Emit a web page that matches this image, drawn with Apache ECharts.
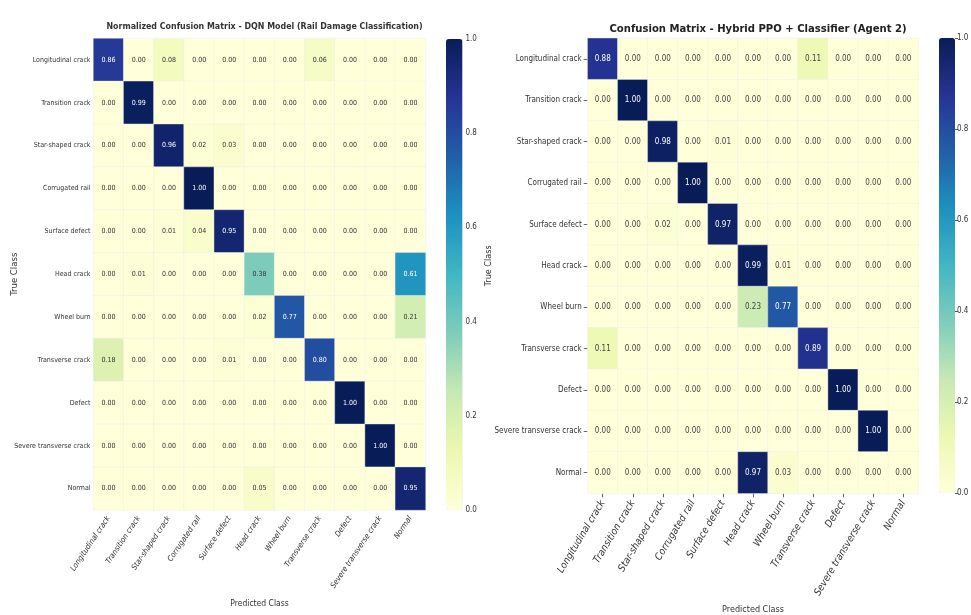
<!DOCTYPE html>
<html>
<head>
<meta charset="utf-8">
<script src="https://cdn.jsdelivr.net/npm/echarts@6/dist/echarts.min.js"></script>
<style>
  html, body { margin: 0; padding: 0; background: #fff; }
  #chart { width: 971px; height: 615px; }
</style>
</head>
<body>
<div id="chart"></div>
<script>
// Class names shared by both confusion matrices (rows = true, columns = predicted)
const classNames = [
  'Longitudinal crack', 'Transition crack', 'Star-shaped crack', 'Corrugated rail',
  'Surface defect', 'Head crack', 'Wheel burn', 'Transverse crack', 'Defect',
  'Severe transverse crack', 'Normal'
];

// DQN model, normalized per true class
const dqnMatrix = [
  [0.86, 0.00, 0.08, 0.00, 0.00, 0.00, 0.00, 0.06, 0.00, 0.00, 0.00],
  [0.00, 0.99, 0.00, 0.00, 0.00, 0.00, 0.00, 0.00, 0.00, 0.00, 0.00],
  [0.00, 0.00, 0.96, 0.02, 0.03, 0.00, 0.00, 0.00, 0.00, 0.00, 0.00],
  [0.00, 0.00, 0.00, 1.00, 0.00, 0.00, 0.00, 0.00, 0.00, 0.00, 0.00],
  [0.00, 0.00, 0.01, 0.04, 0.95, 0.00, 0.00, 0.00, 0.00, 0.00, 0.00],
  [0.00, 0.01, 0.00, 0.00, 0.00, 0.38, 0.00, 0.00, 0.00, 0.00, 0.61],
  [0.00, 0.00, 0.00, 0.00, 0.00, 0.02, 0.77, 0.00, 0.00, 0.00, 0.21],
  [0.18, 0.00, 0.00, 0.00, 0.01, 0.00, 0.00, 0.80, 0.00, 0.00, 0.00],
  [0.00, 0.00, 0.00, 0.00, 0.00, 0.00, 0.00, 0.00, 1.00, 0.00, 0.00],
  [0.00, 0.00, 0.00, 0.00, 0.00, 0.00, 0.00, 0.00, 0.00, 1.00, 0.00],
  [0.00, 0.00, 0.00, 0.00, 0.00, 0.05, 0.00, 0.00, 0.00, 0.00, 0.95]
];

// Hybrid PPO + classifier (agent 2)
const ppoMatrix = [
  [0.88, 0.00, 0.00, 0.00, 0.00, 0.00, 0.00, 0.11, 0.00, 0.00, 0.00],
  [0.00, 1.00, 0.00, 0.00, 0.00, 0.00, 0.00, 0.00, 0.00, 0.00, 0.00],
  [0.00, 0.00, 0.98, 0.00, 0.01, 0.00, 0.00, 0.00, 0.00, 0.00, 0.00],
  [0.00, 0.00, 0.00, 1.00, 0.00, 0.00, 0.00, 0.00, 0.00, 0.00, 0.00],
  [0.00, 0.00, 0.02, 0.00, 0.97, 0.00, 0.00, 0.00, 0.00, 0.00, 0.00],
  [0.00, 0.00, 0.00, 0.00, 0.00, 0.99, 0.01, 0.00, 0.00, 0.00, 0.00],
  [0.00, 0.00, 0.00, 0.00, 0.00, 0.23, 0.77, 0.00, 0.00, 0.00, 0.00],
  [0.11, 0.00, 0.00, 0.00, 0.00, 0.00, 0.00, 0.89, 0.00, 0.00, 0.00],
  [0.00, 0.00, 0.00, 0.00, 0.00, 0.00, 0.00, 0.00, 1.00, 0.00, 0.00],
  [0.00, 0.00, 0.00, 0.00, 0.00, 0.00, 0.00, 0.00, 0.00, 1.00, 0.00],
  [0.00, 0.00, 0.00, 0.00, 0.00, 0.97, 0.03, 0.00, 0.00, 0.00, 0.00]
];

// Colour bar tick labels
const colorbarTicks = [0.0, 0.2, 0.4, 0.6, 0.8, 1.0];

// YlGnBu colour ramp
const ylGnBu = ['#ffffd9', '#edf8b1', '#c7e9b4', '#7fcdbb', '#41b6c4',
                '#1d91c0', '#225ea8', '#253494', '#081d58'];

const condFont = "'DejaVu Sans Condensed', 'DejaVu Sans', sans-serif";

function toCells(matrix, lightText) {
  const cells = [];
  matrix.forEach((row, r) => {
    row.forEach((v, c) => {
      cells.push({
        value: [c, r, v],
        label: { color: v > 0.5 ? '#ffffff' : lightText }
      });
    });
  });
  return cells;
}

const tickFormatter = v => colorbarTicks.find(t => Math.abs(t - v) < 1e-9).toFixed(1);

const chart = echarts.init(document.getElementById('chart'), null, { renderer: 'canvas' });

const option = {
  backgroundColor: '#ffffff',
  animation: false,
  title: [
    {
      text: 'Normalized Confusion Matrix - DQN Model (Rail Damage Classification)',
      left: 259.5, top: 17, textAlign: 'center',
      textStyle: { fontFamily: condFont, fontSize: 8.8, fontWeight: 'bold', color: '#333' }
    },
    {
      text: 'Confusion Matrix - Hybrid PPO + Classifier (Agent 2)',
      left: 753, top: 19, textAlign: 'center',
      textStyle: { fontFamily: condFont, fontSize: 11.2, fontWeight: 'bold', color: '#222' }
    }
  ],
  grid: [
    { left: 93.5, top: 38.5, width: 332, height: 471.5, outerBoundsMode: 'none', containLabel: false },
    { left: 587.7, top: 38.3, width: 330.6, height: 455, outerBoundsMode: 'none', containLabel: false },
    { left: 446, top: 39, width: 16.5, height: 471, outerBoundsMode: 'none', containLabel: false },
    { left: 939, top: 38, width: 16, height: 455, outerBoundsMode: 'none', containLabel: false }
  ],
  xAxis: [
    {
      type: 'category', gridIndex: 0, data: classNames, position: 'bottom',
      name: 'Predicted Class', nameLocation: 'middle', nameGap: 89, nameMoveOverlap: false,
      nameTextStyle: { fontFamily: condFont, fontSize: 8.5, color: '#333' },
      axisLine: { show: false }, axisTick: { show: false }, splitLine: { show: false },
      axisLabel: { rotate: 56, interval: 0, margin: 7, fontFamily: condFont, fontSize: 7.8,
                   fontStyle: 'italic', color: '#333' }
    },
    {
      type: 'category', gridIndex: 1, data: classNames, position: 'bottom',
      name: 'Predicted Class', nameLocation: 'middle', nameGap: 112, nameMoveOverlap: false,
      nameTextStyle: { fontFamily: condFont, fontSize: 9, color: '#333' },
      axisLine: { show: false },
      axisTick: { show: true, alignWithLabel: true, length: 4, lineStyle: { color: '#666' } },
      splitLine: { show: false },
      axisLabel: { rotate: 59, interval: 0, margin: 8, fontFamily: condFont, fontSize: 10,
                   fontStyle: 'italic', color: '#333' }
    },
    { type: 'category', gridIndex: 2, data: [''], show: false },
    { type: 'category', gridIndex: 3, data: [''], show: false }
  ],
  yAxis: [
    {
      type: 'category', gridIndex: 0, data: classNames, inverse: true,
      name: 'True Class', nameLocation: 'middle', nameGap: 74, nameRotate: 90, nameMoveOverlap: false,
      nameTextStyle: { fontFamily: condFont, fontSize: 9.5, color: '#333' },
      axisLine: { show: false }, axisTick: { show: false }, splitLine: { show: false },
      axisLabel: { interval: 0, margin: 3, fontFamily: condFont, fontSize: 7, color: '#333' }
    },
    {
      type: 'category', gridIndex: 1, data: classNames, inverse: true,
      name: 'True Class', nameLocation: 'middle', nameGap: 95, nameRotate: 90, nameMoveOverlap: false,
      nameTextStyle: { fontFamily: condFont, fontSize: 9, color: '#333' },
      axisLine: { show: false },
      axisTick: { show: true, alignWithLabel: true, length: 4, lineStyle: { color: '#666' } },
      splitLine: { show: false },
      axisLabel: { interval: 0, margin: 6, fontFamily: condFont, fontSize: 8, color: '#333' }
    },
    {
      type: 'value', gridIndex: 2, min: 0, max: 1, interval: 0.2, position: 'right',
      axisLine: { show: false }, axisTick: { show: false }, splitLine: { show: false },
      axisLabel: { margin: 3, fontFamily: condFont, fontSize: 8, color: '#333', formatter: tickFormatter }
    },
    {
      type: 'value', gridIndex: 3, min: 0, max: 1, interval: 0.2, position: 'right',
      axisLine: { show: false },
      axisTick: { show: true, length: 3, lineStyle: { color: '#555' } },
      splitLine: { show: false },
      axisLabel: { margin: 2, fontFamily: condFont, fontSize: 8, color: '#333', formatter: tickFormatter }
    }
  ],
  visualMap: [
    {
      type: 'continuous', seriesIndex: 0, dimension: 2, min: 0, max: 1,
      calculable: false, realtime: false, hoverLink: false,
      left: 446, top: 39, itemWidth: 16.5, itemHeight: 471, padding: 0,
      inRange: { color: ylGnBu }, textStyle: { color: 'transparent' }
    },
    {
      type: 'continuous', seriesIndex: 1, dimension: 2, min: 0, max: 1,
      calculable: false, realtime: false, hoverLink: false,
      left: 939, top: 38, itemWidth: 16, itemHeight: 455, padding: 0,
      inRange: { color: ylGnBu }, textStyle: { color: 'transparent' }
    }
  ],
  series: [
    {
      type: 'heatmap', xAxisIndex: 0, yAxisIndex: 0,
      data: toCells(dqnMatrix, '#333333'),
      itemStyle: { borderColor: 'rgba(235,235,235,0.7)', borderWidth: 0.6 },
      label: { show: true, fontFamily: condFont, fontSize: 7,
               formatter: p => p.value[2].toFixed(2) }
    },
    {
      type: 'heatmap', xAxisIndex: 1, yAxisIndex: 1,
      data: toCells(ppoMatrix, '#444444'),
      itemStyle: { borderColor: 'rgba(235,235,235,0.7)', borderWidth: 0.6 },
      label: { show: true, fontFamily: condFont, fontSize: 8,
               formatter: p => p.value[2].toFixed(2) }
    }
  ]
};

chart.setOption(option);
</script>
</body>
</html>
